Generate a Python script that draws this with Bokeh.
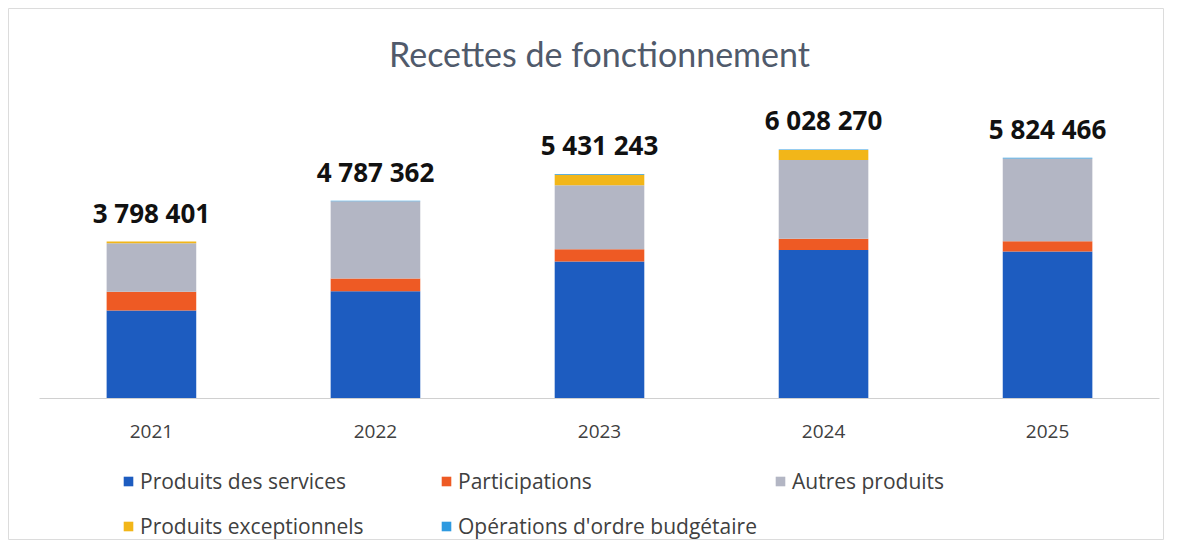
from bokeh.plotting import figure
from bokeh.models import (ColumnDataSource, Range1d, LinearAxis, FixedTicker,
                          Legend, LegendItem, LabelSet, Label)
from bokeh.core.properties import value
from bokeh.embed import file_html
from bokeh.resources import INLINE

years = ["2021", "2022", "2023", "2024", "2025"]
series_names = ["Produits des services", "Participations", "Autres produits",
                "Produits exceptionnels", "Opérations d'ordre budgétaire"]
produits_services = [2130000, 2595000, 3313000, 3591000, 3560000]
participations = [455000, 307000, 297000, 274000, 243000]
autres_produits = [1170000, 1870362, 1550000, 1906000, 2006466]
produits_exceptionnels = [43401, 0, 257243, 243270, 0]
operations_ordre = [0, 15000, 14000, 14000, 15000]
colors = ["#1d5cc0", "#ee5a24", "#b3b6c4", "#f2b619", "#2e9ae0"]

keys = ["s0", "s1", "s2", "s3", "s4"]
values = [produits_services, participations, autres_produits,
          produits_exceptionnels, operations_ordre]
totals = [sum(v) for v in zip(*values)]
data = {"x": list(range(len(years))), "total": totals,
        "label": [f"{t:,}".replace(",", " ") for t in totals]}
for k, v in zip(keys, values):
    data[k] = v
source = ColumnDataSource(data)

p = figure(width=1164, height=540, output_backend="svg", toolbar_location=None,
           x_range=Range1d(-0.638, 4.522), y_range=Range1d(-3436400, 9438000),
           x_axis_type=None, y_axis_type=None, min_border=0,
           min_border_left=8, min_border_top=8)
p.outline_line_color = "#dcdcdc"
p.background_fill_color = "white"
p.border_fill_color = "white"

renderers = p.vbar_stack(keys, x="x", width=0.40, fill_color=colors,
                         line_color=None, source=source)

xaxis = LinearAxis(fixed_location=0, ticker=FixedTicker(ticks=list(range(len(years)))),
                   major_label_overrides={i: y for i, y in enumerate(years)},
                   bounds=(-0.5, 4.5))
xaxis.axis_line_color = "#d0d0d0"
xaxis.major_tick_line_color = None
xaxis.minor_tick_line_color = None
xaxis.major_label_standoff = 20
xaxis.major_label_text_font = "Open Sans"
xaxis.major_label_text_font_size = "19px"
xaxis.major_label_text_color = "#404040"
p.add_layout(xaxis, "below")

labels = LabelSet(x="x", y="total", text="label", source=source, y_offset=19,
                  text_align="center", text_baseline="alphabetic",
                  text_font=value("Open Sans"), text_font_size=value("26px"),
                  text_font_style="bold", text_color="#111111")
p.add_layout(labels)

title = Label(x=591, y=487, x_units="screen", y_units="screen",
              text="Recettes de fonctionnement", text_align="center",
              text_baseline="middle", text_font="Lato", text_font_size="34px",
              text_color="#505a6b")
p.add_layout(title)

legend_pos = [(114, 45), (432, 45), (766, 45), (114, 0), (432, 0)]
for name, r, loc in zip(series_names, renderers, legend_pos):
    leg = Legend(items=[LegendItem(label=name, renderers=[r])], location=loc,
                 orientation="horizontal", padding=0, margin=0, spacing=0,
                 border_line_color=None, background_fill_alpha=0,
                 glyph_width=12, glyph_height=12, label_standoff=6,
                 label_height=20, label_text_font="Open Sans",
                 label_text_font_size="21px", label_text_color="#404040",
                 label_text_baseline="middle")
    p.add_layout(leg, "center")

open("out.html", "w").write(file_html(p, INLINE))
